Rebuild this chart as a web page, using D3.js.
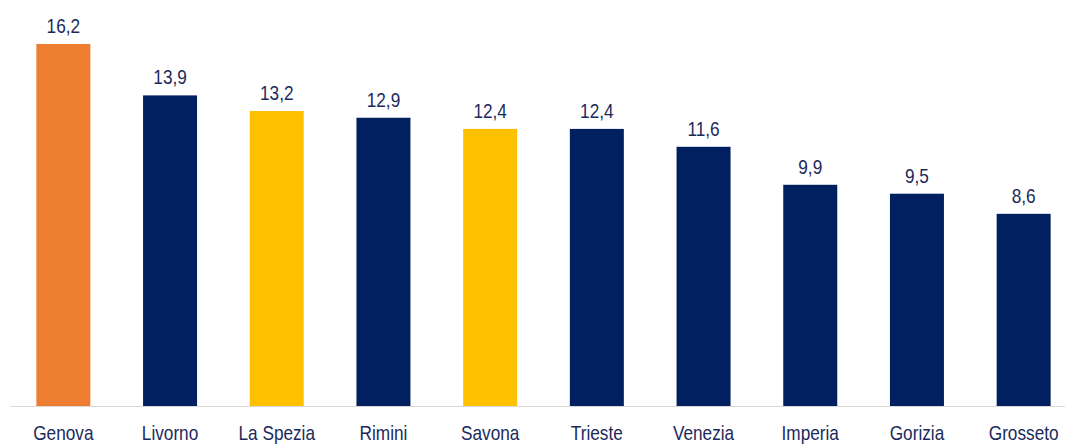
<!DOCTYPE html>
<html><head><meta charset="utf-8">
<script src="https://cdn.jsdelivr.net/npm/d3@7"></script>
<style>body{margin:0;background:#fff}svg{display:block}</style>
</head><body>
<svg id="c" width="1072" height="445"></svg>
<script>
const categories = ["Genova","Livorno","La Spezia","Rimini","Savona","Trieste","Venezia","Imperia","Gorizia","Grosseto"];
const values = [16.2,13.9,13.2,12.9,12.4,12.4,11.6,9.9,9.5,8.6];
const colors = ["#ED7D31","#00205F","#FFC000","#00205F","#FFC000","#00205F","#00205F","#00205F","#00205F","#00205F"];

const svg = d3.select("#c");
const baseY = 406;
const x = d3.scaleBand().domain(categories).range([10, 1077]).paddingInner(0.494).paddingOuter(0.247);
const y = d3.scaleLinear().domain([0, 16.2]).range([baseY, 44]);
const font = "'Liberation Sans','Arial',sans-serif";
const fmt = v => d3.format(".1f")(v).replace(".", ",");
const sx = 0.82;

svg.append("line").attr("x1",10).attr("x2",1065).attr("y1",baseY+0.5).attr("y2",baseY+0.5)
  .attr("stroke","#d9d9d9").attr("stroke-width",1);

svg.selectAll("rect.bar").data(values).join("rect").attr("class","bar")
  .attr("x",(d,i)=>x(categories[i])).attr("width",x.bandwidth())
  .attr("y",d=>y(d)).attr("height",d=>baseY-y(d))
  .attr("fill",(d,i)=>colors[i]);

svg.selectAll("text.val").data(values).join("text").attr("class","val")
  .attr("transform",(d,i)=>`translate(${x(categories[i])+x.bandwidth()/2},${y(d)-11}) scale(${sx},1)`)
  .attr("text-anchor","middle").attr("font-family",font).attr("font-size",21)
  .attr("fill","#1B2A5C").text(fmt);

const ax = d3.axisBottom(x).tickSize(0).tickPadding(0);
const g = svg.append("g").attr("transform",`translate(0,${baseY})`).call(ax);
g.select(".domain").remove();
g.selectAll("text").attr("font-family",font).attr("font-size",21).attr("fill","#1B2A5C")
  .attr("dy",null).attr("y",34).attr("transform",`scale(${sx},1)`).attr("x",0);
g.selectAll(".tick").each(function(){
  const t = d3.select(this).attr("transform");
});
</script>
</body></html>
